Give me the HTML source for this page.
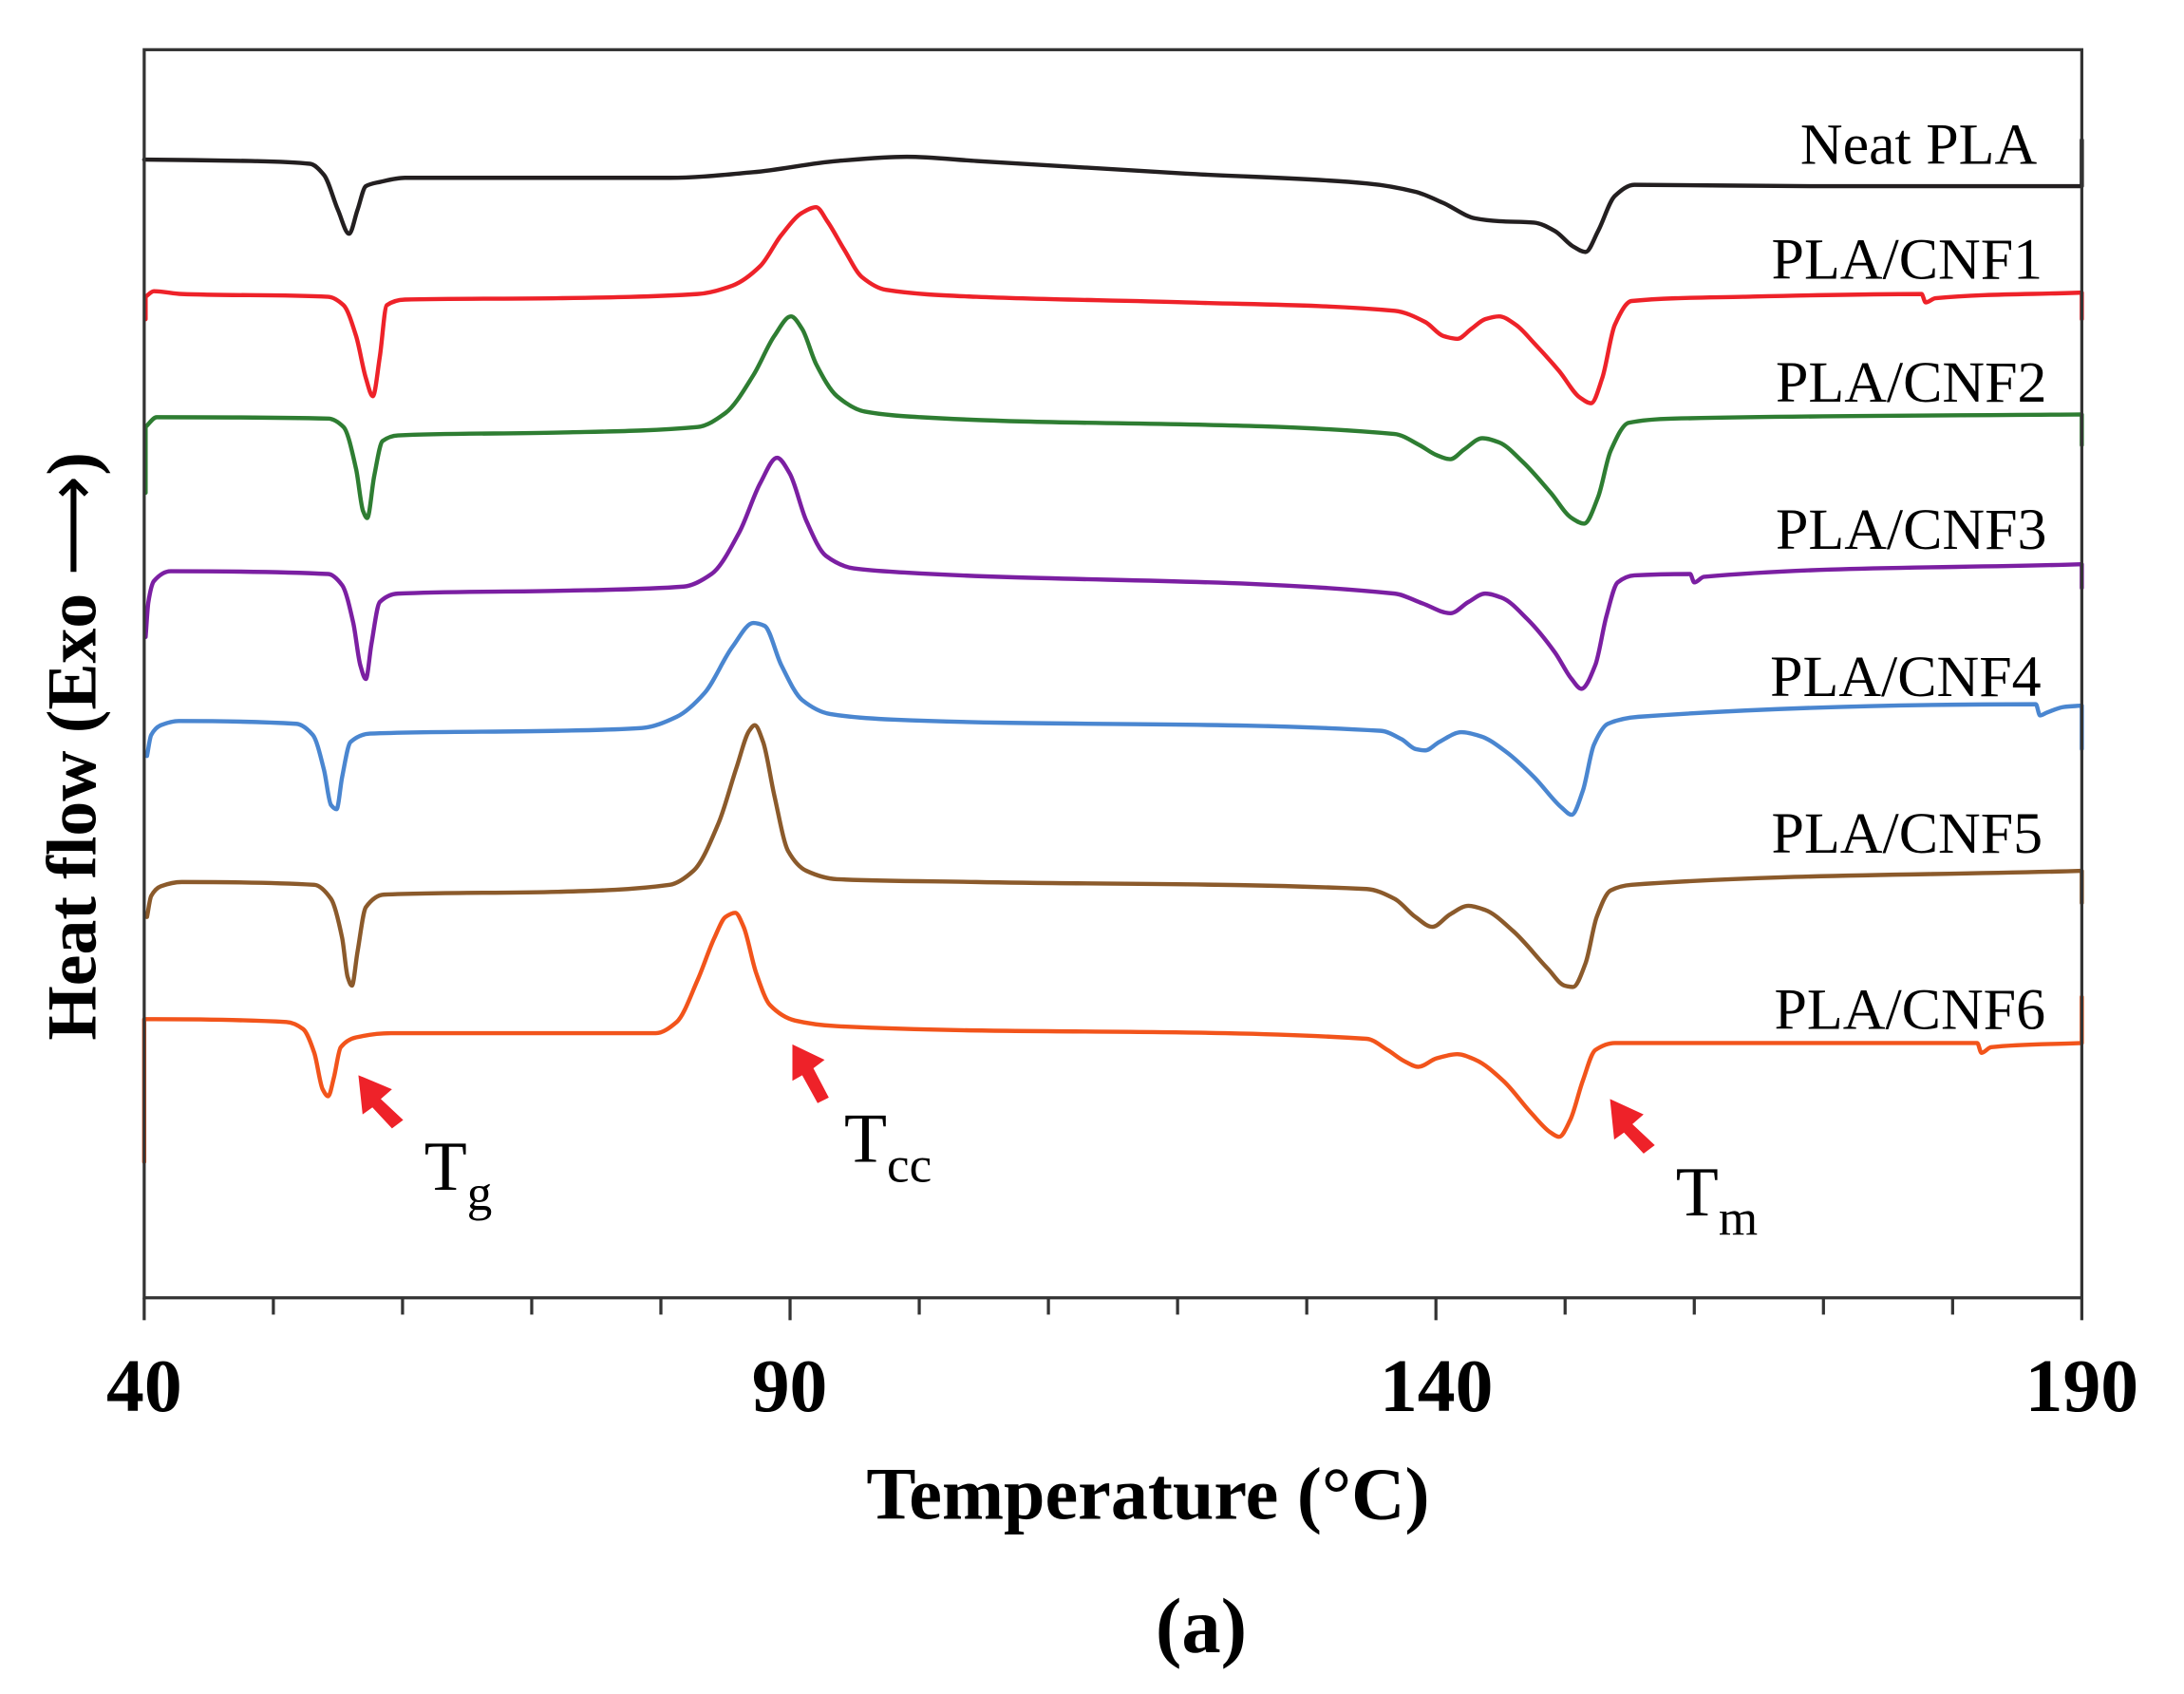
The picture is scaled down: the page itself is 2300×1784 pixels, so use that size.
<!DOCTYPE html>
<html><head><meta charset="utf-8">
<style>
html,body{margin:0;padding:0;background:#fff;}
svg{display:block;}
text{font-family:"Liberation Serif","DejaVu Serif",serif;fill:#000;}
</style></head>
<body>
<svg id="s" width="2300" height="1784" viewBox="0 0 1560 1210" preserveAspectRatio="none" xmlns="http://www.w3.org/2000/svg">
<rect x="0" y="0" width="1560" height="1210" fill="#fff"/>
<g id="curves" fill="none" stroke-width="3" stroke-linejoin="round" stroke-linecap="round"></g>
<rect x="103" y="35.5" width="1384" height="891.5" fill="none" stroke="#333" stroke-width="2.2"/>
<g id="ticks" stroke="#333" stroke-width="2.2"></g>
<g font-weight="bold" font-size="54" text-anchor="middle">
<text x="103" y="1008">40</text>
<text x="564" y="1008">90</text>
<text x="1026" y="1008">140</text>
<text x="1487" y="1008">190</text>
</g>
<text x="820" y="1085" font-size="53" font-weight="bold" text-anchor="middle">Temperature (°C)</text>
<text x="858" y="1180" font-size="56" font-weight="bold" text-anchor="middle">(a)</text>
<text transform="translate(68,533) rotate(-90)" font-size="50" font-weight="bold" text-anchor="middle">Heat flow (Exo <tspan font-family="DejaVu Sans" font-weight="normal">⟶</tspan>)</text>
<g font-size="42" text-anchor="end">
<text x="1455" y="117">Neat PLA</text>
<text x="1459" y="199">PLA/CNF1</text>
<text x="1462" y="287">PLA/CNF2</text>
<text x="1462" y="392">PLA/CNF3</text>
<text x="1458" y="497">PLA/CNF4</text>
<text x="1459" y="609">PLA/CNF5</text>
<text x="1461" y="735">PLA/CNF6</text>
</g>
<g font-size="50">
<text x="303" y="850">T<tspan font-size="36" dy="14">g</tspan></text>
<text x="603" y="830">T<tspan font-size="36" dy="14">cc</tspan></text>
<text x="1197" y="868">T<tspan font-size="36" dy="14">m</tspan></text>
</g>
<g fill="#ee2229">
<polygon points="256,768 280,778 272,785 288,800 280,806 266,791 259,796"/>
<polygon points="566,746 589,757 581,763 592,784 584,788 573,768 566,772"/>
<polygon points="1150,785 1174,796 1166,803 1182,818 1174,824 1160,809 1153,814"/>
</g>
</svg>
<script>
const curves=[
["#231f20",[[103,114],[180,115],[222,117],[232,125],[242,150],[250,167],[256,150],[262,133],[272,130],[290,127],[400,127],[480,127],[540,123],[600,115],[650,112],[700,115],[850,124],[980,131],[1015,137],[1035,145],[1058,156],[1075,158],[1100,159],[1115,165],[1128,176],[1137,180],[1146,165],[1158,140],[1172,132],[1300,133],[1493,133],[1493,100]]],
["#ee2229",[[104,228],[104,212],[110,208],[130,210],[235,212],[246,218],[255,240],[262,270],[267,283],[272,255],[277,218],[290,214],[400,213],[500,210],[525,204],[545,190],[560,168],[575,152],[585,148],[593,158],[605,178],[618,198],[635,207],[700,212],[850,216],[1000,222],[1022,230],[1035,240],[1045,242],[1055,235],[1065,228],[1075,226],[1087,232],[1100,245],[1118,265],[1133,284],[1141,288],[1149,270],[1158,232],[1170,215],[1250,212],[1378,210],[1381,216],[1388,213],[1493,209],[1493,228]]],
["#2e7d32",[[104,352],[104,305],[112,298],[235,299],[246,305],[255,335],[260,365],[263,370],[268,340],[274,315],[285,311],[400,309],[500,305],[520,295],[540,268],[555,240],[567,226],[575,235],[585,260],[600,283],[620,294],[660,298],[1000,310],[1018,318],[1030,325],[1040,328],[1050,321],[1063,313],[1075,316],[1092,330],[1112,352],[1127,370],[1136,374],[1146,355],[1155,322],[1168,302],[1200,299],[1493,296],[1493,318]]],
["#7b1fa2",[[104,455],[106,430],[110,415],[122,408],[235,410],[245,418],[253,445],[258,475],[262,485],[266,460],[272,430],[285,424],[400,422],[490,419],[510,410],[530,380],[545,345],[557,327],[566,338],[578,372],[592,397],[612,406],[650,409],[1000,424],[1020,431],[1040,438],[1053,430],[1065,424],[1077,427],[1095,442],[1115,466],[1127,485],[1134,492],[1144,475],[1152,440],[1160,416],[1172,411],[1212,410],[1215,416],[1222,412],[1493,403],[1493,420]]],
["#4a86d0",[[105,540],[108,525],[115,518],[128,515],[212,517],[224,525],[232,550],[237,575],[241,578],[245,555],[251,530],[265,524],[400,522],[460,520],[485,512],[505,495],[525,462],[540,445],[548,447],[560,475],[575,500],[595,510],[640,514],[990,522],[1005,528],[1015,535],[1022,536],[1032,530],[1048,523],[1062,526],[1080,537],[1100,555],[1120,577],[1127,582],[1135,565],[1143,532],[1153,517],[1175,512],[1460,503],[1463,511],[1468,509],[1480,505],[1493,504],[1493,535]]],
["#8b5a2b",[[105,655],[108,640],[115,633],[130,630],[225,632],[237,642],[245,670],[249,698],[252,704],[256,680],[262,648],[275,639],[400,637],[480,632],[497,622],[515,588],[528,548],[537,522],[541,518],[547,530],[555,568],[565,608],[578,622],[600,628],[700,630],[980,635],[1000,642],[1015,655],[1027,662],[1040,653],[1053,647],[1065,650],[1085,665],[1110,692],[1122,704],[1128,705],[1137,688],[1145,655],[1155,636],[1170,632],[1493,622],[1493,645]]],
["#f2541b",[[103,830],[103,728],[110,728],[205,730],[217,735],[225,752],[231,778],[235,783],[239,770],[244,748],[255,741],[280,738],[470,738],[485,730],[500,700],[512,670],[520,655],[527,652],[533,662],[542,695],[552,718],[570,729],[600,733],[980,742],[995,750],[1007,758],[1017,762],[1030,756],[1045,753],[1058,757],[1078,772],[1098,795],[1112,809],[1118,812],[1126,800],[1135,772],[1144,750],[1158,745],[1418,745],[1421,752],[1428,748],[1493,745],[1493,712]]]
];
const NS="http://www.w3.org/2000/svg";
const g=document.getElementById("curves");
function rx(x){return 103+(x-103)*(1384/1390);}
function f(v){return v.toFixed(2);}
function monoRun(p){ // p: x strictly increasing
  const n=p.length; if(n<2) return "";
  const dx=[],s=[];
  for(let i=0;i<n-1;i++){dx.push(p[i+1][0]-p[i][0]);s.push((p[i+1][1]-p[i][1])/dx[i]);}
  const m=new Array(n);
  m[0]=s[0]; m[n-1]=s[n-2];
  for(let i=1;i<n-1;i++){
    if(s[i-1]*s[i]<=0) m[i]=0;
    else{const w1=2*dx[i]+dx[i-1],w2=dx[i]+2*dx[i-1];m[i]=(w1+w2)/(w1/s[i-1]+w2/s[i]);}
  }
  let d="";
  for(let i=0;i<n-1;i++){
    const h=dx[i]/3;
    d+=" C"+f(p[i][0]+h)+","+f(p[i][1]+m[i]*h)+" "+f(p[i+1][0]-h)+","+f(p[i+1][1]-m[i+1]*h)+" "+f(p[i+1][0])+","+f(p[i+1][1]);
  }
  return d;
}
curves.forEach(([col,pts])=>{
  const p=pts.map(a=>[rx(a[0]),a[1]]);
  let d="M"+f(p[0][0])+","+f(p[0][1]);
  let run=[p[0]];
  for(let i=1;i<p.length;i++){
    if(p[i][0]-p[i-1][0]>=1.5){run.push(p[i]);}
    else{
      d+=monoRun(run);
      d+=" L"+f(p[i][0])+","+f(p[i][1]);
      run=[p[i]];
    }
  }
  d+=monoRun(run);
  const e=document.createElementNS(NS,"path");
  e.setAttribute("d",d);e.setAttribute("stroke",col);
  g.appendChild(e);
});
const tg=document.getElementById("ticks");
for(let i=0;i<=15;i++){
 const x=103+i*1384/15;
 const major=i%5===0;
 const l=document.createElementNS(NS,"line");
 l.setAttribute("x1",x);l.setAttribute("x2",x);
 l.setAttribute("y1",927);l.setAttribute("y2",major?943:939);
 tg.appendChild(l);
}
</script>
</body></html>
